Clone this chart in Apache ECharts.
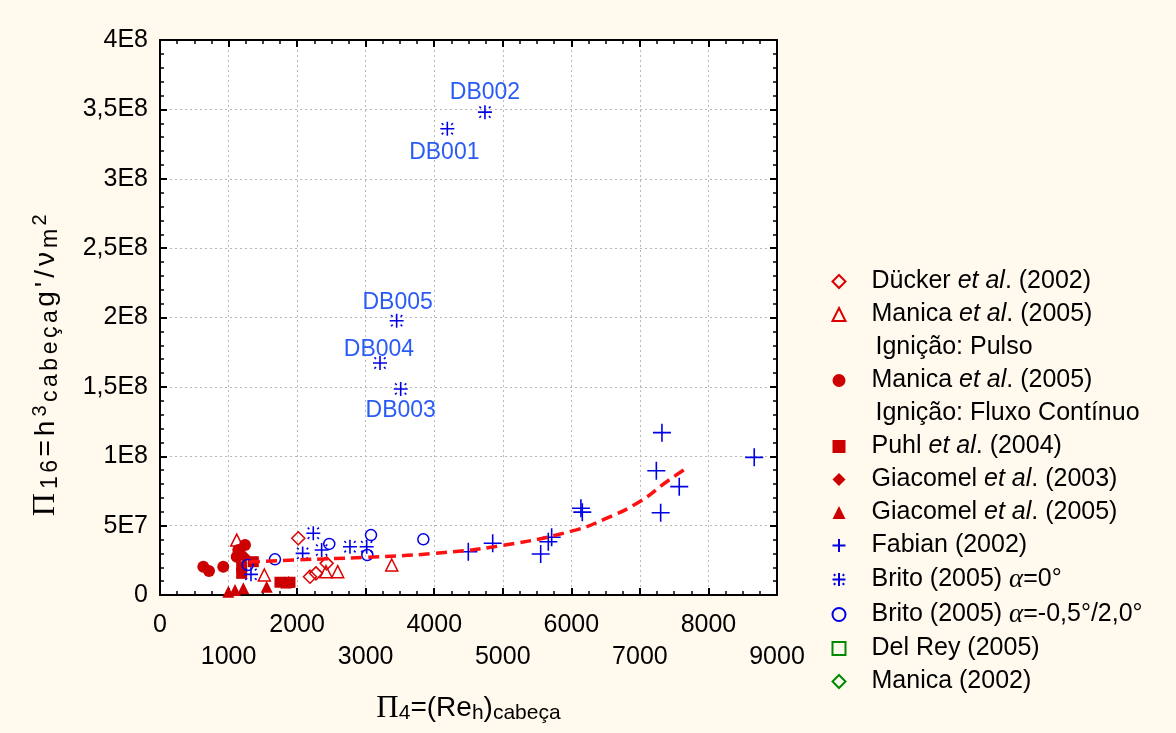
<!DOCTYPE html>
<html><head><meta charset="utf-8">
<script src="https://cdn.jsdelivr.net/npm/echarts@6/dist/echarts.min.js"></script>
<style>html,body{margin:0;padding:0;background:#fff9ee;}#c{width:1176px;height:733px;}</style>
</head><body><div id="c"></div>
<script>
// ---- tick labels ----
const xTickLabels = ['0','1000','2000','3000','4000','5000','6000','7000','8000','9000'];
const yTickLabels = ['0','5E7','1E8','1,5E8','2E8','2,5E8','3E8','3,5E8','4E8'];

// ---- data (x = Re_h cabeça, y = Pi16) ----
const duckerX = [2017, 2188, 2275, 2431];
const duckerY = [4.09e7, 1.32e7, 1.56e7, 2.28e7];

const manicaPulsoX = [1119, 1522, 2421, 2592, 3380];
const manicaPulsoY = [3.96e7, 1.44e7, 1.68e7, 1.68e7, 2.16e7];

const manicaFluxoX = [632, 715, 923, 1240, 1142, 1119];
const manicaFluxoY = [2.04e7, 1.73e7, 2.04e7, 3.6e7, 3.24e7, 2.76e7];

const puhlX = [1191, 1361, 1191, 1750, 1896, 1838];
const puhlY = [2.04e7, 2.4e7, 1.56e7, 9.2e6, 9.2e6, 8.6e6];

const giacomel2003X = [1230];
const giacomel2003Y = [2.75e7];

const giacomel2005X = [996, 1094, 1215, 1556, 1877];
const giacomel2005Y = [2.4e6, 3.6e6, 4.8e6, 6.0e6, 9.6e6];

const fabianX = [4497, 4853, 5553, 5713, 5664, 6140, 6160, 7322, 7240, 7574, 7303, 8668];
const fabianY = [3.12e7, 3.73e7, 2.95e7, 4.16e7, 3.84e7, 6.25e7, 5.97e7, 1.17e8, 8.96e7, 7.81e7, 5.93e7, 9.92e7];

const britoA0X = [4191, 4740, 3511, 3209, 3452, 2236, 2081, 2358, 2771, 3015, 1327];
const britoA0Y = [3.36e8, 3.48e8, 1.485e8, 1.672e8, 1.977e8, 4.45e7, 3.0e7, 3.24e7, 3.48e7, 3.48e7, 1.49e7];
const britoA0Labels = ['DB001', 'DB002', 'DB003', 'DB004', 'DB005', '', '', '', '', '', ''];

const britoAX = [1279, 1677, 2469, 3078, 3024, 3841];
const britoAY = [2.16e7, 2.57e7, 3.68e7, 4.32e7, 2.88e7, 4.01e7];

const delReyX = [];
const delReyY = [];
const manica2002X = [];
const manica2002Y = [];

const fitX = [1300, 2000, 3000, 4000, 5000, 6000, 6500, 7000, 7400, 7700];
const fitY = [2.38e7, 2.53e7, 2.72e7, 3.0e7, 3.58e7, 4.6e7, 5.5e7, 6.74e7, 8.2e7, 9.2e7];

// ---- helpers / styles ----
const pts = (xs, ys) => xs.map((x, i) => [x, ys[i]]);
const RED = '#cc0000', RED_O = '#dd0000', BLUE = '#0000e6', GREEN = '#008a00', LBL = '#2a5cf5';
const FONT = 'Liberation Sans, Arial, sans-serif';
const SERIF = 'Liberation Serif, Times New Roman, serif';
const plusPath = 'path://M6,0L6,12M0,6L12,6';
const starPath = 'path://M6,0L6,12M0,6L12,6M1.2,1.2L2.6,2.6M9.4,9.4L10.8,10.8M1.2,10.8L2.6,9.4M9.4,2.6L10.8,1.2';
const dbOffset = { DB001: [-3, 24], DB002: [0, -19], DB003: [0, 22], DB004: [-1, -13], DB005: [1, -18] };

const legendDisplay = {
  'duc': 'Dücker {i|et al}. (2002)',
  'mp': 'Manica {i|et al}. (2005)',
  'ip': '{ind|Ignição: Pulso}',
  'mf': 'Manica {i|et al}. (2005)',
  'if': '{ind|Ignição: Fluxo Contínuo}',
  'puhl': 'Puhl {i|et al}. (2004)',
  'g03': 'Giacomel {i|et al}. (2003)',
  'g05': 'Giacomel {i|et al}. (2005)',
  'fab': 'Fabian (2002)',
  'b0': 'Brito (2005) {a|α}=0°',
  'b1': 'Brito (2005) {a|α}=-0,5°/2,0°',
  'dr': 'Del Rey (2005)',
  'm02': 'Manica (2002)'
};

const hollow = (c) => ({ color: 'rgba(0,0,0,0)', borderColor: c, borderWidth: 1.5, opacity: 1 });
const stroke = (c) => ({ color: 'none', borderColor: c, borderWidth: 1.6, opacity: 1 });
const solid = (c) => ({ color: c, opacity: 1 });

const britoData = pts(britoA0X, britoA0Y).map((p, i) => {
  const t = britoA0Labels[i];
  if (!t) return p;
  return { value: p, label: { show: true, formatter: t, position: 'inside', offset: dbOffset[t],
    color: LBL, fontSize: 23, fontFamily: FONT, opacity: 1 } };
});

const series = [
  { name: 'duc', type: 'scatter', symbol: 'diamond', symbolSize: 13, itemStyle: hollow(RED_O), data: pts(duckerX, duckerY) },
  { name: 'mp', type: 'scatter', symbol: 'triangle', symbolSize: 12, itemStyle: hollow(RED_O), data: pts(manicaPulsoX, manicaPulsoY) },
  { name: 'ip', type: 'scatter', symbol: 'none', data: [] },
  { name: 'mf', type: 'scatter', symbol: 'circle', symbolSize: 12, itemStyle: solid(RED), data: pts(manicaFluxoX, manicaFluxoY) },
  { name: 'if', type: 'scatter', symbol: 'none', data: [] },
  { name: 'puhl', type: 'scatter', symbol: 'rect', symbolSize: 11, itemStyle: solid(RED), data: pts(puhlX, puhlY) },
  { name: 'g03', type: 'scatter', symbol: 'diamond', symbolSize: 13, itemStyle: solid(RED), data: pts(giacomel2003X, giacomel2003Y) },
  { name: 'g05', type: 'scatter', symbol: 'triangle', symbolSize: 12, itemStyle: solid(RED), data: pts(giacomel2005X, giacomel2005Y) },
  { name: 'fit', type: 'line', smooth: true, showSymbol: false, symbol: 'none', silent: true,
    lineStyle: { color: '#ff1010', width: 3.5, type: [11, 6] }, data: pts(fitX, fitY) },
  { name: 'fab', type: 'scatter', symbol: plusPath, symbolSize: 18, itemStyle: stroke(BLUE), data: pts(fabianX, fabianY) },
  { name: 'b0', type: 'scatter', symbol: starPath, symbolSize: 14, itemStyle: stroke(BLUE), data: britoData },
  { name: 'b1', type: 'scatter', symbol: 'circle', symbolSize: 11, itemStyle: hollow(BLUE), data: pts(britoAX, britoAY) },
  { name: 'dr', type: 'scatter', symbol: 'rect', symbolSize: 11, itemStyle: hollow(GREEN), data: pts(delReyX, delReyY) },
  { name: 'm02', type: 'scatter', symbol: 'diamond', symbolSize: 13, itemStyle: hollow(GREEN), data: pts(manica2002X, manica2002Y) }
];

const legendNames = ['duc', 'mp', 'ip', 'mf', 'if', 'puhl', 'g03', 'g05', 'fab', 'b0', 'b1', 'dr', 'm02'];

// spaced rich-text builder for the rotated y-axis title
const sp = (s, st) => [...s].map(c => '{' + st + '|' + c + '}').join('');
const yName = sp('Π', 'pi') + sp('16', 'sub') + sp('=h', 'n') + sp('3', 'sup') + sp('cabeça', 'sub') +
  sp("g'/ν", 'n') + sp('m', 'sub') + sp('2', 'sup');

const tickLabelStyle = { color: '#000', fontSize: 25, fontFamily: FONT };
const axisLineStyle = { show: true, onZero: false, lineStyle: { color: '#000', width: 2 } };
const majorTick = { show: true, inside: true, length: 7, lineStyle: { color: '#000', width: 2 } };
const minorTickX = { show: true, splitNumber: 4, length: 4, lineStyle: { color: '#000', width: 1.5 } };
const minorTickY = { show: true, splitNumber: 5, length: 4, lineStyle: { color: '#000', width: 1.5 } };

const option = {
  backgroundColor: '#fff9ee',
  animation: false,
  grid: { left: 160, right: 399, top: 40, bottom: 138, show: true, backgroundColor: '#ffffff', borderWidth: 0 },
  legend: {
    data: legendNames.map(n => (n === 'ip' || n === 'if') ? { name: n, icon: 'none' } : { name: n }),
    orient: 'vertical', left: 825, top: 264, itemWidth: 13, itemHeight: 13, itemGap: 8,
    selectedMode: false,
    formatter: n => legendDisplay[n],
    textStyle: {
      color: '#000', fontSize: 25, fontFamily: FONT, lineHeight: 22, padding: [0, 0, 0, 21],
      rich: {
        i: { fontStyle: 'italic', fontSize: 25, fontFamily: FONT, lineHeight: 22, color: '#000' },
        a: { fontStyle: 'italic', fontSize: 27, fontFamily: SERIF, lineHeight: 22, color: '#000' },
        ind: { fontSize: 25, fontFamily: FONT, lineHeight: 22, color: '#000', padding: [0, 0, 0, 4] }
      }
    }
  },
  xAxis: [{
    type: 'value', min: 0, max: 9000, interval: 1000, position: 'bottom',
    name: '{pi|Π}{sub|4}{n|=(Re}{sub|h}{n|)}{sub|cabeça}',
    nameLocation: 'middle', nameGap: 98,
    nameTextStyle: {
      color: '#000', fontSize: 28, fontFamily: FONT,
      rich: {
        pi: { fontFamily: SERIF, fontSize: 31, color: '#000' },
        n: { fontFamily: FONT, fontSize: 28, color: '#000' },
        sub: { fontFamily: FONT, fontSize: 21, color: '#000', verticalAlign: 'bottom', padding: [4, 0, 0, 0] }
      }
    },
    axisLine: axisLineStyle, axisTick: majorTick, minorTick: minorTickX,
    splitLine: { show: true, lineStyle: { color: '#b8b8b8', width: 1, type: [2, 3] } },
    axisLabel: Object.assign({ margin: 14, lineHeight: 32, showMinLabel: true, showMaxLabel: true,
      formatter: v => { const i = Math.round(v / 1000); return i % 2 ? '\n' + xTickLabels[i] : xTickLabels[i]; } }, tickLabelStyle)
  }, {
    type: 'value', min: 0, max: 9000, interval: 1000, position: 'top',
    axisLine: axisLineStyle, axisTick: majorTick, minorTick: minorTickX,
    splitLine: { show: false }, axisLabel: { show: false }
  }],
  yAxis: [{
    type: 'value', min: 0, max: 4e8, interval: 5e7, position: 'left',
    name: yName,
    nameLocation: 'middle', nameGap: 98,
    nameTextStyle: {
      color: '#000', fontSize: 28, fontFamily: FONT, padding: [0, 92, 0, 0],
      rich: {
        pi: { fontFamily: SERIF, fontSize: 32, color: '#000', padding: [0, 4, 0, 0] },
        n: { fontFamily: FONT, fontSize: 28, color: '#000', padding: [0, 4, 0, 0] },
        sub: { fontFamily: FONT, fontSize: 23, color: '#000', verticalAlign: 'bottom', padding: [5, 3.5, 0, 0] },
        sup: { fontFamily: FONT, fontSize: 20, color: '#000', verticalAlign: 'top', padding: [0, 3.5, 5, 0] }
      }
    },
    axisLine: axisLineStyle, axisTick: majorTick, minorTick: minorTickY,
    splitLine: { show: true, lineStyle: { color: '#b8b8b8', width: 1, type: [2, 3] } },
    axisLabel: Object.assign({ margin: 12, showMinLabel: true, showMaxLabel: true,
      formatter: v => yTickLabels[Math.round(v / 5e7)] }, tickLabelStyle)
  }, {
    type: 'value', min: 0, max: 4e8, interval: 5e7, position: 'right',
    axisLine: axisLineStyle, axisTick: majorTick, minorTick: minorTickY,
    splitLine: { show: false }, axisLabel: { show: false }
  }],
  series: series
};

const chart = echarts.init(document.getElementById('c'), null, { renderer: 'canvas' });
chart.setOption(option);
</script>
</body></html>
